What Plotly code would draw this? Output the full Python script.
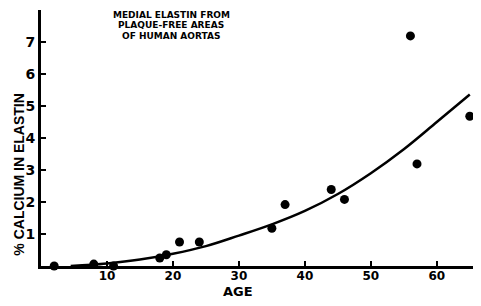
import plotly.graph_objects as go

# Data
ages = [2, 8, 11, 18, 19, 21, 24, 35, 37, 44, 46, 56, 57, 65]
calcium = [0.0, 0.06, 0.0, 0.25, 0.35, 0.75, 0.75, 1.18, 1.92, 2.39, 2.08, 7.19, 3.19, 4.68]

curve_age = [4.5, 10, 15, 20, 25, 30, 35, 40, 45, 50, 55, 60, 65]
curve_val = [0.0, 0.08, 0.2, 0.38, 0.62, 0.95, 1.3, 1.72, 2.25, 2.9, 3.65, 4.5, 5.36]

x_ticks = [10, 20, 30, 40, 50, 60]
y_ticks = [1, 2, 3, 4, 5, 6, 7]
title_lines = ["MEDIAL ELASTIN FROM", "PLAQUE-FREE AREAS", "OF HUMAN AORTAS"]

FONT = "DejaVu Sans"
YFONT = "Liberation Sans"

# window-pixel geometry of the plot area (page body has an 8px margin)
PL, PR, PT, PB = 41, 481, 10, 266.5


def px(xp):
    return (xp - PL) / (PR - PL)


def py(yp):
    return (PB - yp) / (PB - PT)


fig = go.Figure()
fig.add_trace(go.Scatter(x=curve_age, y=curve_val, mode="lines",
                         line=dict(color="black", width=2.5, shape="spline"),
                         hoverinfo="skip", showlegend=False))
fig.add_trace(go.Scatter(x=ages, y=calcium, mode="markers",
                         marker=dict(color="black", size=9),
                         showlegend=False, cliponaxis=False))

annotations = [
    dict(text="<b>AGE</b>", x=px(238), y=py(292), xref="paper", yref="paper",
         xanchor="center", yanchor="middle", showarrow=False,
         font=dict(family=FONT, size=13, color="black")),
    dict(text="<b>% CALCIUM IN ELASTIN</b>", textangle=-90,
         x=px(19), y=py(175), xref="paper", yref="paper",
         xanchor="center", yanchor="middle", showarrow=False,
         font=dict(family=YFONT, size=14, color="black")),
]
for line, yc in zip(title_lines, [15, 25.5, 36]):
    annotations.append(dict(text="<b>%s</b>" % line, x=px(171), y=py(yc),
                            xref="paper", yref="paper", xanchor="center",
                            yanchor="middle", showarrow=False,
                            font=dict(family=FONT, size=9, color="black")))

fig.update_layout(
    width=473, height=298,
    margin=dict(l=33, r=0, t=2, b=298 - 258.5, autoexpand=False),
    plot_bgcolor="white", paper_bgcolor="white",
    font=dict(family=FONT, color="black", size=12),
    xaxis=dict(range=[0, 66.7], tickvals=x_ticks, ticktext=["<b>%d</b>" % v for v in x_ticks],
               showgrid=False, zeroline=False, showline=True, linecolor="black", linewidth=3,
               ticks="inside", ticklen=5, tickwidth=1.5, tickcolor="black",
               ticklabelstandoff=-3,
               tickfont=dict(family=FONT, size=12, color="black"), automargin=False),
    yaxis=dict(range=[0, 8.0], tickvals=y_ticks, ticktext=["<b>%d</b>" % v for v in y_ticks],
               showgrid=False, zeroline=False, showline=True, linecolor="black", linewidth=3,
               ticks="inside", ticklen=5, tickwidth=1.5, tickcolor="black",
               tickfont=dict(family=FONT, size=14, color="black"), automargin=False),
    annotations=annotations,
)

fig.write_html("out.html")
